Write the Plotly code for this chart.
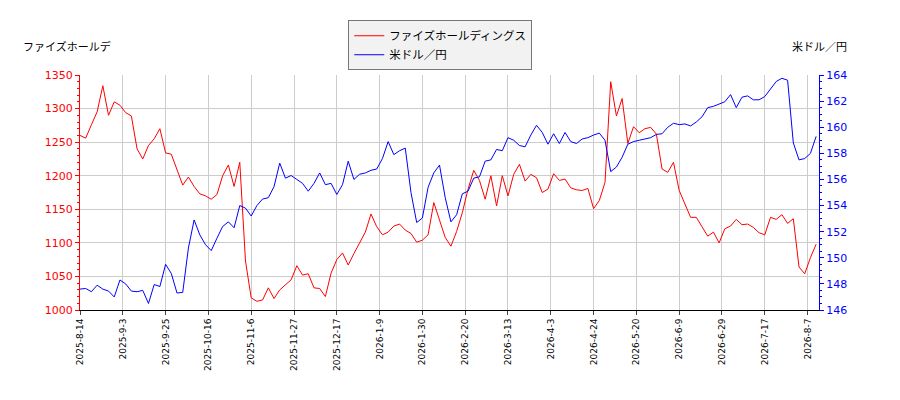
import plotly.graph_objects as go

# trading-day index (every 2nd day) and values
day_idx = list(range(0, 259, 2))

faiz_price = [
    1260, 1256, 1276, 1295, 1334, 1290, 1310, 1305, 1294, 1289,
    1240, 1225, 1245, 1255, 1270, 1234, 1232, 1208, 1186, 1198,
    1184, 1173, 1170, 1165, 1172, 1200, 1216, 1184, 1220, 1073,
    1018, 1013, 1015, 1033, 1017, 1030, 1038, 1045, 1066, 1052,
    1054, 1033, 1032, 1020, 1055, 1075, 1085, 1067, 1084, 1100,
    1116, 1143, 1124, 1112, 1116, 1125, 1128, 1119, 1114, 1101,
    1104, 1112, 1160, 1134, 1108, 1095, 1117, 1145, 1180, 1208,
    1193, 1165, 1200, 1155, 1200, 1170, 1202, 1217, 1192, 1202,
    1197, 1175, 1180, 1203, 1193, 1195, 1182, 1179, 1178, 1181,
    1151, 1163, 1190, 1340, 1289, 1315, 1248, 1273, 1264, 1270,
    1272, 1262, 1210, 1205, 1220, 1178, 1158, 1138, 1138, 1125,
    1110, 1116, 1100, 1121, 1125, 1135, 1127, 1128, 1123, 1115,
    1112, 1138, 1135, 1142, 1129, 1136, 1064, 1054, 1078, 1098,
]

usdjpy = [
    147.6, 147.65, 147.4, 147.9, 147.6, 147.45, 147.0, 148.3, 148.0, 147.45,
    147.4, 147.5, 146.5, 147.95, 147.8, 149.5, 148.8, 147.3, 147.35, 150.75,
    152.9, 151.75, 151.0, 150.55, 151.5, 152.4, 152.75, 152.3, 154.0, 153.8,
    153.2, 154.0, 154.5, 154.6, 155.45, 157.25, 156.1, 156.3, 156.0, 155.7,
    155.1, 155.7, 156.5, 155.6, 155.7, 154.85, 155.6, 157.4, 156.0, 156.4,
    156.5, 156.7, 156.8, 157.6, 158.9, 157.9, 158.2, 158.4, 155.0, 152.7,
    153.05, 155.4, 156.5, 157.1, 154.6, 152.75, 153.3, 154.9, 155.1, 156.1,
    156.2, 157.4, 157.5, 158.3, 158.2, 159.2, 159.0, 158.6, 158.5, 159.4,
    160.15, 159.6, 158.7, 159.5, 158.75, 159.6, 158.9, 158.75, 159.1, 159.2,
    159.4, 159.55, 159.0, 156.6, 156.95, 157.7, 158.7, 158.9, 159.0, 159.1,
    159.2, 159.45, 159.5, 160.0, 160.3, 160.2, 160.25, 160.1, 160.4, 160.8,
    161.5, 161.6, 161.75, 161.95, 162.5, 161.5, 162.3, 162.4, 162.1, 162.1,
    162.35, 162.9, 163.5, 163.75, 163.6, 158.8, 157.5, 157.6, 158.0, 159.3,
]

tick_idx = list(range(0, 256, 15))
tick_labels = [
    "2025-8-14", "2025-9-3", "2025-9-25", "2025-10-16", "2025-11-6",
    "2025-11-27", "2025-12-17", "2026-1-9", "2026-1-30", "2026-2-20",
    "2026-3-13", "2026-4-3", "2026-4-24", "2026-5-20", "2026-6-9",
    "2026-6-29", "2026-7-17", "2026-8-7",
]

FONT = "DejaVu Sans, Noto Sans CJK JP"

fig = go.Figure()
fig.add_scatter(x=day_idx, y=faiz_price, mode="lines", name="ファイズホールディングス",
                line=dict(color="red", width=1))
fig.add_scatter(x=day_idx, y=usdjpy, mode="lines", name="米ドル／円",
                line=dict(color="blue", width=1), yaxis="y2")

fig.update_layout(
    width=900, height=400,
    margin=dict(l=72, r=89, t=62, b=98),
    plot_bgcolor="white", paper_bgcolor="white",
    font=dict(family=FONT, size=11, color="black"),
    showlegend=True,
    legend=dict(x=0.363, y=1.233, xanchor="left", yanchor="top",
                bgcolor="#f2f2f2", bordercolor="#777777", borderwidth=1,
                font=dict(size=11.5), tracegroupgap=0),
    xaxis=dict(range=[0, 259], tickmode="array", tickvals=tick_idx, ticktext=tick_labels,
               tickangle=-90, tickfont=dict(size=9), ticks="outside", ticklen=4,
               showgrid=True, gridcolor="#cccccc", showline=True, linecolor="black",
               zeroline=False),
    yaxis=dict(range=[1000, 1350], dtick=50, tickfont=dict(color="red", size=11),
               ticks="outside", ticklen=4, tickcolor="red",
               minor=dict(ticks="outside", dtick=10, ticklen=2, tickcolor="red"),
               showgrid=True, gridcolor="#cccccc", showline=True, linecolor="red",
               zeroline=False),
    yaxis2=dict(range=[146, 164], dtick=2, overlaying="y", side="right",
                tickfont=dict(color="blue", size=11), ticks="outside", ticklen=4,
                tickcolor="blue",
                minor=dict(ticks="outside", dtick=0.5, ticklen=2, tickcolor="blue"),
                showgrid=False, showline=True, linecolor="blue", zeroline=False),
    annotations=[
        dict(text="ファイズホールデ", xref="paper", yref="paper", x=-0.08, y=1.08,
             xanchor="left", yanchor="bottom", showarrow=False, font=dict(size=11)),
        dict(text="米ドル／円", xref="paper", yref="paper", x=1.04, y=1.08,
             xanchor="right", yanchor="bottom", showarrow=False, font=dict(size=11)),
    ],
)

fig.write_html("out.html")
